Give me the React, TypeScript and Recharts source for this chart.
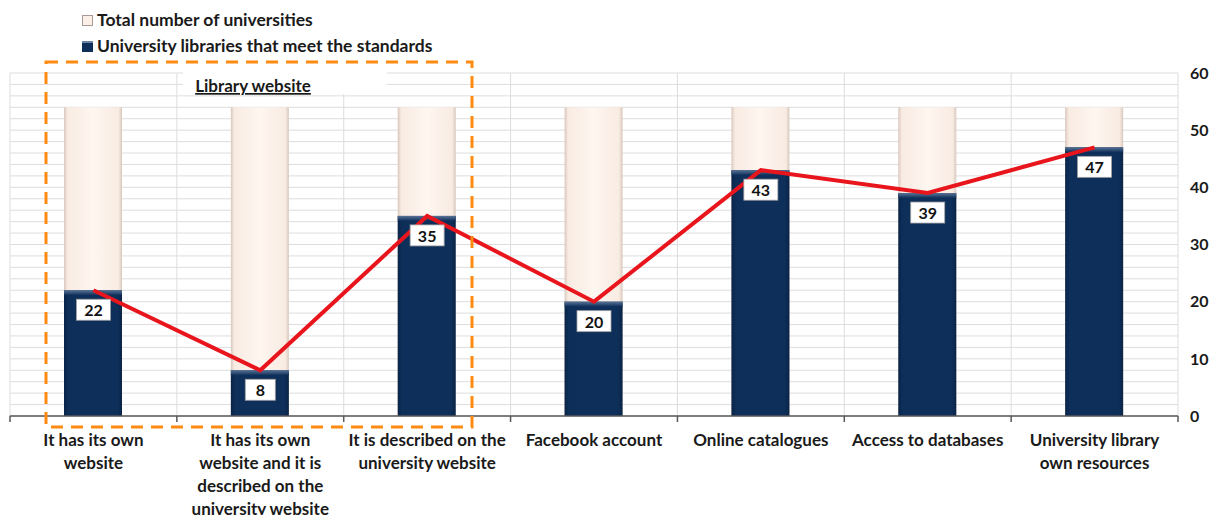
import { Bar, CartesianGrid, ComposedChart, LabelList, Line, XAxis, YAxis } from "recharts";

const CATEGORIES = [
  "It has its own\nwebsite",
  "It has its own\nwebsite and it is\ndescribed on the\nuniversity website",
  "It is described on the\nuniversity website",
  "Facebook account",
  "Online catalogues",
  "Access to databases",
  "University library\nown resources",
];
const TOTAL = [54, 54, 54, 54, 54, 54, 54];
const MEET = [22, 8, 35, 20, 43, 39, 47];
const Y_TICKS = [0, 10, 20, 30, 40, 50, 60];
const GRID_VALUES = [0, 2, 4, 6, 8, 10, 12, 14, 16, 18, 20, 22, 24, 26, 28, 30, 32, 34, 36, 38, 40, 42, 44, 46, 48, 50, 52, 54, 56, 58, 60];
const Y_MAX = 60;

const data = CATEGORIES.map((name, i) => ({ name, total: TOTAL[i], meet: MEET[i] }));

const FONT = "Lato, 'Open Sans', sans-serif";
const NAVY = "#0e2f5a";
const AXIS = "#595959";

const CategoryTick = (props: any) => {
  const { x, y, payload, width, index } = props;
  const half = payload?.offset ? payload.offset : width / CATEGORIES.length / 2;
  const lines = String(payload.value).split("\n");
  return (
    <g>
      <line x1={x - half} x2={x - half} y1={y} y2={y + 6} stroke={AXIS} strokeWidth={1.5} />
      {index === CATEGORIES.length - 1 && (
        <line x1={x + half} x2={x + half} y1={y} y2={y + 6} stroke={AXIS} strokeWidth={1.5} />
      )}
      <text x={x} y={y + 30} textAnchor="middle" fontFamily={FONT} fontWeight={700} fontSize={17} fill="#1a1a1a">
        {lines.map((l, i) => (
          <tspan key={i} x={x} dy={i === 0 ? 0 : 23}>
            {l}
          </tspan>
        ))}
      </text>
    </g>
  );
};

const NavyBar = (props: any) => {
  const { x, y, width, height } = props;
  if (!height || height <= 0) return null;
  return (
    <g>
      <rect x={x} y={y} width={width} height={height} fill="url(#navyGrad)" />
      <rect x={x} y={y} width={width} height={Math.min(5, height)} fill="url(#navyTop)" />
    </g>
  );
};

const TotalBar = (props: any) => {
  const { x, y, width, height } = props;
  return <rect x={x} y={y} width={width} height={height} fill="url(#creamGrad)" />;
};

const ValueLabel = (props: any) => {
  const { x, y, value } = props;
  const w = String(value).length > 1 ? 34 : 30;
  return (
    <g>
      <rect x={x - w / 2} y={y + 9} width={w} height={21} fill="#ffffff" stroke="#a0a0a0" strokeWidth={0.8} />
      <text x={x} y={y + 26} textAnchor="middle" fontFamily={FONT} fontWeight={700} fontSize={16} fill="#111">
        {value}
      </text>
    </g>
  );
};

export default function App() {
  return (
    <div style={{ position: "absolute", left: 0, top: 0, width: 1213, height: 515, background: "#fff", overflow: "hidden" }}>
      <ComposedChart width={1213} height={515} data={data} margin={{ top: 73, right: 0, bottom: 0, left: 10 }}>
        <defs>
          <linearGradient id="creamGrad" x1="0" y1="0" x2="1" y2="0">
            <stop offset="0" stopColor="#d9c7bc" />
            <stop offset="0.06" stopColor="#f8ebe2" />
            <stop offset="0.5" stopColor="#fef6f0" />
            <stop offset="0.94" stopColor="#f8ebe2" />
            <stop offset="1" stopColor="#d9c7bc" />
          </linearGradient>
          <linearGradient id="navyGrad" x1="0" y1="0" x2="1" y2="0">
            <stop offset="0" stopColor="#0a2447" />
            <stop offset="0.08" stopColor={NAVY} />
            <stop offset="0.92" stopColor={NAVY} />
            <stop offset="1" stopColor="#0a2447" />
          </linearGradient>
          <linearGradient id="navyTop" x1="0" y1="0" x2="0" y2="1">
            <stop offset="0" stopColor="#5a7396" />
            <stop offset="1" stopColor={NAVY} />
          </linearGradient>
        </defs>
        <CartesianGrid
          stroke="#dddddd"
          horizontalCoordinatesGenerator={({ offset }: any) =>
            GRID_VALUES.map((v) => offset.top + offset.height * (1 - v / Y_MAX))
          }
          verticalCoordinatesGenerator={({ offset }: any) =>
            CATEGORIES.map((_, i) => offset.left + (offset.width * i) / CATEGORIES.length).concat(offset.left + offset.width)
          }
        />
        <XAxis
          dataKey="name"
          interval={0}
          height={99}
          tickSize={0}
          tickMargin={0}
          tickLine={false}
          axisLine={{ stroke: AXIS, strokeWidth: 1.5 }}
          tick={<CategoryTick />}
        />
        <XAxis xAxisId="back" dataKey="name" hide />
        <YAxis
          orientation="right"
          domain={[0, Y_MAX]}
          ticks={Y_TICKS}
          width={35}
          axisLine={false}
          tickLine={false}
          tickSize={0}
          tickMargin={12}
          tick={{ fontFamily: FONT, fontWeight: 700, fontSize: 16, fill: "#1a1a1a", textAnchor: "start" }}
        />
        <Bar xAxisId="back" dataKey="total" barSize={58} shape={<TotalBar />} isAnimationActive={false} />
        <Bar dataKey="meet" barSize={58} shape={<NavyBar />} isAnimationActive={false} />
        <Line dataKey="meet" stroke="#e8151d" strokeWidth={4} dot={false} isAnimationActive={false}>
          <LabelList dataKey="meet" content={<ValueLabel />} />
        </Line>
      </ComposedChart>

      <div style={{ position: "absolute", left: 82, top: 7, fontFamily: FONT, fontWeight: 700, fontSize: 17.5, color: "#1a1a1a", lineHeight: "26px" }}>
        <div style={{ display: "flex", alignItems: "center" }}>
          <span style={{ width: 11, height: 11, background: "#fbefe8", border: "1px solid #a89a94", boxSizing: "border-box", marginRight: 4, display: "inline-block" }} />
          Total number of universities
        </div>
        <div style={{ display: "flex", alignItems: "center" }}>
          <span style={{ width: 11, height: 11, background: NAVY, borderTop: "2px solid #6a84a8", boxSizing: "border-box", marginRight: 4, display: "inline-block" }} />
          University libraries that meet the standards
        </div>
      </div>

      <svg style={{ position: "absolute", left: 0, top: 0 }} width={1213} height={515}>
        <rect x={183} y={72} width={204} height={22} fill="#ffffff" />
        <text x={253} y={92} textAnchor="middle" fontFamily={FONT} fontWeight={700} fontSize={17} fill="#1a1a1a" textDecoration="underline">
          Library website
        </text>
        <rect x={46} y={62} width={426} height={365} fill="none" stroke="#ff8a12" strokeWidth={3} strokeDasharray="12 8" />
      </svg>
    </div>
  );
}
